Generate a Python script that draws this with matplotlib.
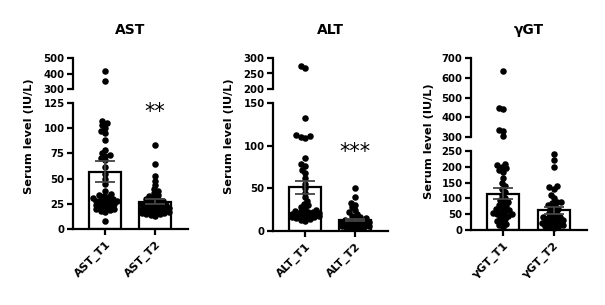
import numpy as np
import matplotlib.pyplot as plt

plt.rcParams['font.family'] = ['DejaVu Sans']

# panel titles and group labels
titles = ['AST', 'ALT', 'γGT']
group_labels = [['AST_T1', 'AST_T2'], ['ALT_T1', 'ALT_T2'], ['γGT_T1', 'γGT_T2']]
stars = ['**', '***', '***']

# bar means and SEM
means = [[57, 27], [51, 13], [115, 62]]
sems = [[10, 2.5], [8, 1.5], [18, 10]]

# individual values (estimated)
ast_t1 = [415, 350, 107, 105, 103, 100, 97, 95, 88, 78, 75, 73, 72, 70, 68, 62, 55, 50,
          45, 38, 35, 34, 33, 32, 31, 30, 30, 29, 28, 28, 27, 26, 25, 25, 24, 23, 22,
          21, 20, 20, 19, 18, 17, 8]
ast_t2 = [83, 64, 53, 48, 44, 40, 38, 36, 34, 33, 32, 30, 30, 29, 28, 27, 26, 25, 25,
          24, 24, 23, 23, 22, 22, 21, 21, 20, 20, 19, 19, 18, 18, 17, 17, 16, 16, 15,
          15, 14, 13]
alt_t1 = [273, 268, 133, 112, 111, 110, 109, 85, 78, 76, 72, 68, 62, 55, 50, 45, 40, 35,
          32, 30, 28, 26, 25, 24, 23, 22, 22, 21, 21, 20, 20, 19, 19, 18, 18, 17, 17,
          16, 16, 15, 14, 13, 12]
alt_t2 = [50, 40, 33, 31, 28, 25, 22, 20, 18, 16, 15, 14, 13, 12, 12, 11, 11, 10, 10,
          9, 9, 8, 8, 8, 7, 7, 6, 6, 5, 5, 4, 4, 3]
ggt_t1 = [635, 445, 440, 335, 330, 305, 210, 205, 200, 195, 190, 185, 165, 150, 140,
          130, 120, 110, 100, 95, 90, 85, 80, 75, 70, 65, 62, 60, 58, 55, 52, 50, 48,
          45, 40, 35, 30, 25, 20, 15, 10]
ggt_t2 = [240, 220, 200, 140, 135, 130, 110, 100, 90, 88, 85, 80, 75, 70, 65, 60, 55,
          50, 45, 42, 40, 38, 35, 32, 30, 28, 25, 22, 20, 18, 15, 12, 10, 8, 5]
values = [[ast_t1, ast_t2], [alt_t1, alt_t2], [ggt_t1, ggt_t2]]

# broken axis segments
lower_lims = [(0, 125), (0, 150), (0, 250)]
lower_ticks = [[0, 25, 50, 75, 100, 125], [0, 50, 100, 150], [0, 50, 100, 150, 200, 250]]
upper_lims = [(300, 500), (200, 300), (300, 700)]
upper_ticks = [[300, 400, 500], [200, 250, 300], [300, 400, 500, 600, 700]]
star_y = [116, 92, 297]

W, H = 605, 305
fig = plt.figure(figsize=(W / 100, H / 100), dpi=100)

# pixel layout (left, right, lower top, lower bottom, upper top, upper bottom, ylabel x, ylabel y)
layout = [(73, 188, 103, 229, 58, 89, 29, 136),
          (273, 388, 103, 231, 58, 89, 229, 136),
          (471, 587, 151, 230, 58, 137, 429, 141)]


def swarm(ys, dmin=3.8, maxw=13.5):
    # simple beeswarm offsets in pixels, points overlap when crowded
    order = np.argsort(ys)
    placed = []
    offs = np.zeros(len(ys))
    cands = [0.0]
    step = 1.5
    k = 1
    while k * step <= maxw:
        cands += [-k * step, k * step]
        k += 1
    for i in order:
        y = ys[i]
        best, best_cost = 0.0, None
        for c in cands:
            cost = 0.0
            for (px, py) in placed:
                d2 = (px - c) ** 2 + (py - y) ** 2
                if d2 < dmin ** 2:
                    cost += dmin ** 2 - d2
            if cost == 0:
                best = c
                break
            if best_cost is None or cost < best_cost:
                best, best_cost = c, cost
        offs[i] = best
        placed.append((best, y))
    return offs


lw = 1.6
tick_fs = 7.3
for p in range(3):
    l, r, lt, lb, ut, ub, lx, ly = layout[p]
    ax_lo = fig.add_axes([l / W, 1 - lb / H, (r - l) / W, (lb - lt) / H])
    ax_hi = fig.add_axes([l / W, 1 - ub / H, (r - l) / W, (ub - ut) / H])
    px_per_unit = (r - l) / 2.3
    for ax in (ax_lo, ax_hi):
        ax.set_xlim(-0.64, 1.66)
        ax.spines['top'].set_visible(False)
        ax.spines['right'].set_visible(False)
        ax.spines['left'].set_linewidth(lw)
        ax.spines['bottom'].set_linewidth(lw)
        ax.tick_params(axis='y', width=lw, length=4.5, pad=1.5)
    ax_lo.set_ylim(*lower_lims[p])
    ax_lo.set_yticks(lower_ticks[p])
    ax_hi.set_ylim(*upper_lims[p])
    ax_hi.set_yticks(upper_ticks[p])
    ax_hi.spines['bottom'].set_visible(False)
    ax_hi.set_xticks([])
    ax_lo.set_yticklabels([str(v) for v in lower_ticks[p]], fontweight='bold', fontsize=tick_fs)
    ax_hi.set_yticklabels([str(v) for v in upper_ticks[p]], fontweight='bold', fontsize=tick_fs)

    ax_lo.bar([0, 1], means[p], width=0.64, color='white', edgecolor='black',
              linewidth=lw, zorder=1)

    for g in range(2):
        vals = np.array(values[p][g], dtype=float)
        lo_mask = vals <= lower_lims[p][1]
        ypx = np.where(lo_mask,
                       (vals - lower_lims[p][0]) / (lower_lims[p][1] - lower_lims[p][0]) * (lb - lt),
                       (lb - ut) - (upper_lims[p][1] - vals) / (upper_lims[p][1] - upper_lims[p][0]) * (ub - ut))
        offs = swarm(ypx) / px_per_unit
        xs = g + offs
        ax_lo.scatter(xs[lo_mask], vals[lo_mask], s=22, color='black', zorder=2,
                      linewidths=0, clip_on=False)
        ax_hi.scatter(xs[~lo_mask], vals[~lo_mask], s=22, color='black', zorder=2,
                      linewidths=0, clip_on=False)

    ax_lo.errorbar([0, 1], means[p], yerr=sems[p], fmt='none', ecolor='#444444',
                   elinewidth=1.3, capsize=7, capthick=1.3, zorder=3)

    ax_lo.set_xticks([0, 1])
    ax_lo.set_xticklabels(group_labels[p], rotation=45, ha='right',
                          rotation_mode='anchor', fontweight='bold', fontsize=8.2)
    ax_lo.tick_params(axis='x', width=lw, length=4.5, pad=3)

    ax_lo.text(1, star_y[p], stars[p], ha='center', va='center', fontsize=15)

    fig.text((l + r) / 2 / W, 1 - 30 / H, titles[p], ha='center', va='center',
             fontsize=10, fontweight='bold')
    fig.text(lx / W, 1 - ly / H, 'Serum level (IU/L)', rotation=90,
             ha='center', va='center', fontsize=8.2, fontweight='bold')

fig.savefig('out.png', dpi=100)
